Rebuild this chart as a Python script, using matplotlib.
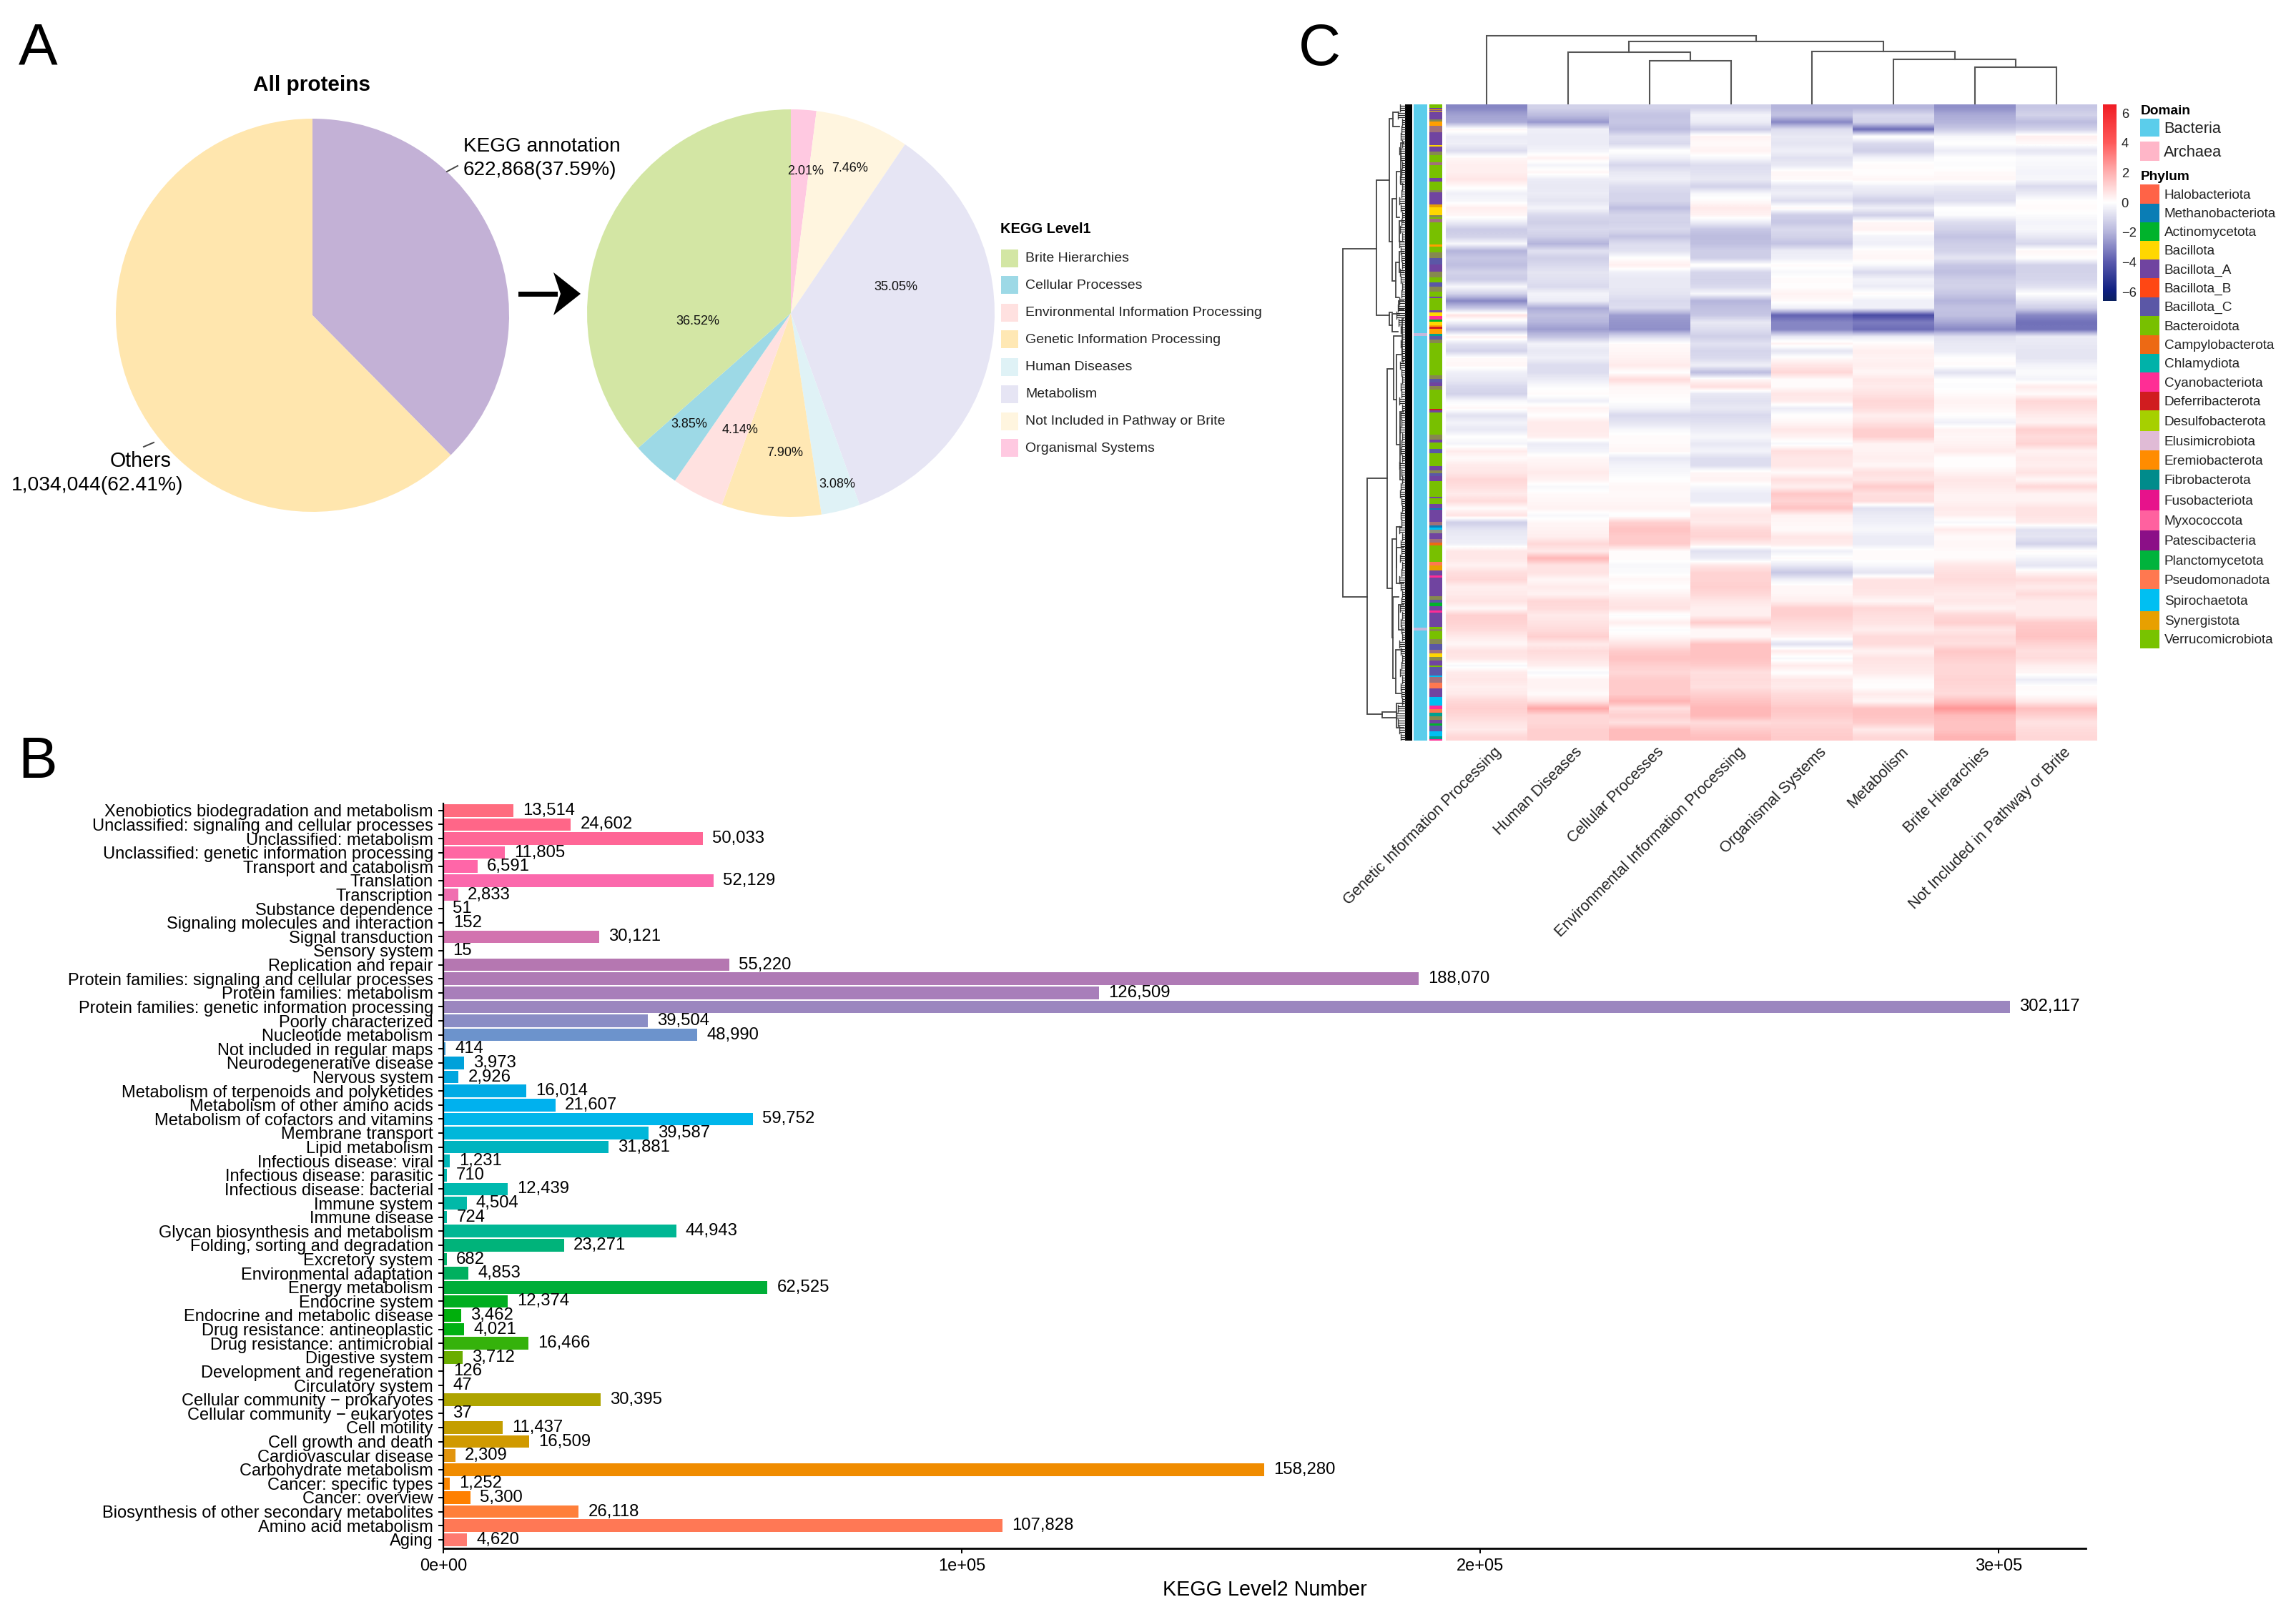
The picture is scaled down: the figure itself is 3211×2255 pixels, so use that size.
import numpy as np
import matplotlib
matplotlib.use('Agg')
import matplotlib.pyplot as plt
from matplotlib.colors import LinearSegmentedColormap, ListedColormap
from matplotlib.patches import Polygon, Rectangle

plt.rcParams['font.family'] = ['Liberation Sans', 'DejaVu Sans']

W, H = 3212, 2255

# panel A
overview_labels = ['KEGG annotation', 'Others']
overview_values = [622868, 1034044]
overview_colors = ['#C3B1D6', '#FFE6AE']

level1_names = ['Brite Hierarchies', 'Cellular Processes', 'Environmental Information Processing',
                'Genetic Information Processing', 'Human Diseases', 'Metabolism',
                'Not Included in Pathway or Brite', 'Organismal Systems']
level1_pct = [36.52, 3.85, 4.14, 7.90, 3.08, 35.05, 7.46, 2.01]
level1_colors = ['#D3E6A4', '#9DD9E6', '#FFE1E0', '#FFE8B4', '#DFF2F6', '#E6E5F4', '#FFF5DF', '#FFC9E1']

# panel B, bottom to top
level2_names = ['Aging', 'Amino acid metabolism', 'Biosynthesis of other secondary metabolites',
                'Cancer: overview', 'Cancer: specific types', 'Carbohydrate metabolism',
                'Cardiovascular disease', 'Cell growth and death', 'Cell motility',
                'Cellular community \u2212 eukaryotes', 'Cellular community \u2212 prokaryotes',
                'Circulatory system', 'Development and regeneration', 'Digestive system',
                'Drug resistance: antimicrobial', 'Drug resistance: antineoplastic',
                'Endocrine and metabolic disease', 'Endocrine system', 'Energy metabolism',
                'Environmental adaptation', 'Excretory system', 'Folding, sorting and degradation',
                'Glycan biosynthesis and metabolism', 'Immune disease', 'Immune system',
                'Infectious disease: bacterial', 'Infectious disease: parasitic',
                'Infectious disease: viral', 'Lipid metabolism', 'Membrane transport',
                'Metabolism of cofactors and vitamins', 'Metabolism of other amino acids',
                'Metabolism of terpenoids and polyketides', 'Nervous system',
                'Neurodegenerative disease', 'Not included in regular maps', 'Nucleotide metabolism',
                'Poorly characterized', 'Protein families: genetic information processing',
                'Protein families: metabolism', 'Protein families: signaling and cellular processes',
                'Replication and repair', 'Sensory system', 'Signal transduction',
                'Signaling molecules and interaction', 'Substance dependence', 'Transcription',
                'Translation', 'Transport and catabolism', 'Unclassified: genetic information processing',
                'Unclassified: metabolism', 'Unclassified: signaling and cellular processes',
                'Xenobiotics biodegradation and metabolism']
level2_values = [4620, 107828, 26118, 5300, 1252, 158280, 2309, 16509, 11437, 37, 30395, 47, 126,
                 3712, 16466, 4021, 3462, 12374, 62525, 4853, 682, 23271, 44943, 724, 4504, 12439,
                 710, 1231, 31881, 39587, 59752, 21607, 16014, 2926, 3973, 414, 48990, 39504,
                 302117, 126509, 188070, 55220, 15, 30121, 152, 51, 2833, 52129, 6591, 11805,
                 50033, 24602, 13514]
level2_colors = ['#FF7A70', '#FF7855', '#FF7F3A', '#FF8000', '#FA8500', '#F08C00', '#E2950E', '#D09A00',
                 '#C49E00', '#B8A000', '#AEA400', '#9AA800', '#86AB00', '#6AAD00', '#35B20B', '#00B112',
                 '#00AF0C', '#00AE20', '#00AE38', '#00B05F', '#00B36C', '#00B37A', '#00B794', '#00B8A0',
                 '#00B9A8', '#00B9AF', '#00B8B0', '#00B7B8', '#00B4C0', '#00B7DA', '#00B6EB', '#00B1EE',
                 '#00ABE5', '#00A6DF', '#00A1DA', '#3D9BD6', '#6C93CC', '#8A8DC5', '#9B86BF', '#A87EBA',
                 '#AF7AB5', '#B577B1', '#C075B0', '#D273AF', '#E070B0', '#E86FB0', '#F06EB0', '#FB69AC',
                 '#FF66A8', '#FF66A3', '#FF6696', '#FF6688', '#FF6C7F']

# panel C
heat_cols = ['Genetic Information Processing', 'Human Diseases', 'Cellular Processes',
             'Environmental Information Processing', 'Organismal Systems', 'Metabolism',
             'Brite Hierarchies', 'Not Included in Pathway or Brite']
heat_rows = [
    [-3.0, -1.2, -1.2, -1.2, -2.0, -2.0, -2.8, -1.5],
    [-2.4, -1.8, -1.6, -0.3, -1.6, -1.0, -2.2, -1.2],
    [-2.2, -2.6, -1.5, -0.5, -3.0, -1.2, -2.0, -1.8],
    [0.2, -0.4, -1.8, -1.4, -0.9, -3.6, -1.4, -1.2],
    [-0.5, -0.5, -0.8, 0.3, -0.6, 0.1, -0.2, 0.4],
    [-0.4, -0.5, -1.0, 0.1, -0.7, -1.0, 0.0, 0.1],
    [-0.9, -0.3, 0.0, 0.3, -0.4, -1.3, -0.5, -0.7],
    [0.2, 0.3, -0.4, -0.2, -0.8, -0.3, 0.0, -0.1],
    [0.4, -0.3, -1.1, -0.9, -0.6, 0.1, -0.1, -0.2],
    [0.4, 0.2, -0.6, -0.8, 0.2, 0.0, 0.1, -0.3],
    [0.6, -0.5, -0.4, -0.6, 0.1, 0.2, 0.2, -0.2],
    [0.1, -0.6, -0.9, -1.2, -0.7, -0.4, -0.5, -1.0],
    [-0.4, -0.5, -1.1, -0.2, -0.4, -0.7, -0.8, -0.5],
    [-0.2, -0.7, -1.1, 0.1, -0.9, -1.3, -0.9, 0.0],
    [0.4, -0.3, -1.7, 0.5, 0.2, -0.4, 0.0, 0.1],
    [0.2, -1.0, -1.1, 0.3, -1.3, -1.3, -0.1, -0.1],
    [-0.5, -1.3, -1.2, -0.5, -1.5, 0.2, -0.9, -0.3],
    [-1.4, -1.0, -1.0, -1.5, -1.0, 0.3, -1.2, -0.2],
    [-1.2, -1.3, -1.6, -1.8, -1.2, -0.3, -1.6, -0.6],
    [-0.2, -2.0, -0.9, -1.7, -1.6, -0.4, -1.3, -1.1],
    [-2.0, -0.8, -0.8, -1.3, -0.5, 0.1, -1.2, 0.2],
    [-1.5, -1.3, 0.0, -1.3, -0.4, 0.2, -0.7, 0.0],
    [-1.7, -1.0, 0.4, 0.1, 0.1, -0.2, -1.5, -1.2],
    [-1.2, -0.7, -0.4, -1.1, -0.2, -1.0, -1.7, -1.2],
    [-1.4, -0.8, -0.6, -1.2, 0.1, -0.3, -1.3, -1.1],
    [-0.2, -1.0, -0.6, -1.0, 0.0, -0.5, -1.2, -0.8],
    [-1.2, -0.3, -0.7, -0.2, 0.3, 0.1, -1.5, 0.0],
    [-3.0, -0.5, -1.0, -2.0, 0.1, -0.4, -2.0, -0.7],
    [-1.5, -2.2, -0.9, -1.7, -0.4, -0.4, -1.6, -1.3],
    [0.7, -1.7, -2.5, -1.5, -3.8, -4.4, -1.7, -3.0],
    [-0.4, -2.0, -2.7, -0.6, -3.0, -3.2, -2.3, -3.5],
    [-1.7, -2.5, -2.8, -0.9, -3.0, -3.6, -3.0, -3.4],
    [0.4, -1.6, -1.0, -1.3, -0.6, -0.5, -0.8, -0.5],
    [-0.7, -0.3, 0.1, -0.8, 0.3, 0.1, -0.6, -0.6],
    [-1.2, -0.6, 0.2, -1.1, -0.7, 0.4, -0.5, -0.7],
    [0.1, -0.4, 0.3, -1.0, 0.1, 0.3, 0.0, -0.7],
    [0.2, -0.9, 0.5, -0.4, 0.6, 0.4, 0.1, -0.3],
    [-0.4, -0.9, 0.0, -1.8, 1.0, 0.2, -0.8, -0.1],
    [-0.6, -0.5, 0.9, 0.2, 0.1, 0.6, 0.0, -0.3],
    [-1.0, -0.1, 0.2, 0.8, 0.1, 0.5, -0.1, 0.5],
    [-1.2, 0.1, 0.1, -0.6, 0.6, 0.7, 0.1, 0.1],
    [-0.2, -0.4, 0.0, -0.8, 0.5, 1.0, 0.3, 1.0],
    [0.2, 0.3, -0.3, -0.6, -0.5, 0.9, 0.2, 0.8],
    [-0.8, 0.0, -1.0, -1.0, 0.0, 0.4, 0.0, 0.5],
    [-0.3, 0.5, -0.7, -0.8, 0.2, 0.7, -0.4, 0.3],
    [-0.6, 0.5, -0.2, -0.5, 0.6, 1.2, 0.3, 1.2],
    [0.0, 0.4, 0.1, -0.2, 0.3, 1.2, 0.2, 0.9],
    [-0.3, -0.5, 0.1, -0.6, -0.2, 0.3, 0.3, 1.1],
    [0.5, -0.3, 0.2, -0.3, 0.8, 0.3, 0.5, 0.3],
    [0.1, 0.2, -0.6, -0.9, 0.6, 0.4, 0.0, 0.5],
    [0.5, 0.3, -0.3, -0.9, 0.6, 0.2, 0.0, 0.4],
    [0.6, 0.5, -0.2, 0.2, 0.1, 0.8, 0.3, 0.7],
    [1.0, 0.3, 0.0, 0.3, 0.8, 0.6, 0.6, 0.2],
    [0.8, -0.2, 0.2, -0.2, 0.4, 1.3, 0.5, 1.0],
    [0.5, 0.1, 0.1, -0.5, 1.4, 0.8, 0.3, 0.3],
    [0.9, 0.2, 0.2, -0.5, 1.1, 0.9, 0.3, 0.3],
    [0.1, 0.3, 0.3, 0.4, 1.5, -0.8, 0.5, 0.7],
    [0.7, -0.2, -0.1, 0.6, 0.3, -0.5, 0.4, 0.7],
    [-1.3, 0.2, 1.2, 0.5, 0.2, -0.4, -0.2, 0.5],
    [-0.7, 0.3, 1.5, 1.0, 0.1, -0.2, 0.5, -0.8],
    [-0.5, 0.4, 1.3, 1.1, 0.6, -0.5, 0.1, -0.7],
    [-0.4, 1.0, 1.3, 0.5, 0.5, -0.5, 0.2, -1.2],
    [0.6, 0.5, 0.1, -0.8, -0.4, 0.1, 0.1, 0.1],
    [0.6, 1.8, 0.1, -0.5, 0.1, 0.1, 0.1, -0.3],
    [0.3, 0.7, -0.2, 0.6, -0.6, -0.2, 0.6, -0.7],
    [0.8, 0.7, -0.1, 1.1, -1.5, -0.7, 0.8, 0.3],
    [1.0, 0.2, 0.2, 1.1, -0.4, 0.7, 0.9, 0.9],
    [0.4, 0.5, 0.0, 1.2, 0.2, 0.7, 0.7, 0.5],
    [0.5, 0.3, 0.3, 1.0, 0.2, 0.6, 0.5, 0.9],
    [0.7, 1.0, 0.6, 0.6, 0.4, 0.2, 0.6, 0.5],
    [0.2, 0.9, 0.7, 0.4, 1.2, 1.0, 0.3, 0.5],
    [1.2, 0.5, -0.1, 0.4, 1.2, 0.8, 1.0, 0.5],
    [1.1, 0.7, 0.4, 1.3, 0.9, 0.7, 1.2, 1.3],
    [0.9, 0.9, -0.1, 0.2, 0.7, 0.4, 0.6, 1.4],
    [0.5, 1.2, 0.2, 0.2, 0.3, 0.9, 0.9, 1.5],
    [0.2, 0.5, 0.7, 1.5, -0.8, 0.9, 0.8, 1.1],
    [0.7, 0.9, 1.3, 1.5, 0.5, 0.3, 1.4, 0.8],
    [0.6, 0.7, 1.5, 1.5, -0.2, 0.7, 1.2, 0.9],
    [-0.2, 0.4, 1.2, 1.3, 0.5, 0.6, 1.0, 0.4],
    [0.5, -0.2, 1.0, 0.8, 0.0, 0.5, 1.0, 0.2],
    [0.6, 0.3, 1.3, 0.9, 0.6, 0.1, 1.1, -0.5],
    [0.4, 0.3, 1.3, 0.8, 0.5, 0.0, 1.0, 0.1],
    [0.5, 0.1, 1.3, 1.2, 0.9, 0.5, 0.9, 0.0],
    [1.0, 0.7, 1.9, 1.5, 1.1, 0.2, 1.6, 0.5],
    [1.2, 2.2, 0.8, 1.8, 1.4, 1.5, 2.6, 1.6],
    [1.0, 1.0, 1.2, 1.8, 1.3, 1.5, 1.7, 1.2],
    [0.7, 1.0, 0.8, 0.9, 1.0, 1.3, 1.5, 0.7],
    [0.5, 1.2, 1.7, 1.3, 1.2, 0.5, 1.5, 0.9],
    [1.0, 1.2, 1.7, 1.6, 1.3, 1.0, 1.9, 1.0],
]

phylum_names = ['Halobacteriota', 'Methanobacteriota', 'Actinomycetota', 'Bacillota', 'Bacillota_A',
                'Bacillota_B', 'Bacillota_C', 'Bacteroidota', 'Campylobacterota', 'Chlamydiota',
                'Cyanobacteriota', 'Deferribacterota', 'Desulfobacterota', 'Elusimicrobiota',
                'Eremiobacterota', 'Fibrobacterota', 'Fusobacteriota', 'Myxococcota', 'Patescibacteria',
                'Planctomycetota', 'Pseudomonadota', 'Spirochaetota', 'Synergistota', 'Verrucomicrobiota']
phylum_colors = ['#FF6347', '#0A7DB5', '#00B32C', '#FFD700', '#7044A0', '#FF4714', '#5B57A6', '#78C000',
                 '#ED6914', '#00B2A9', '#FF2D95', '#D01C1F', '#A6D000', '#E0BBD6', '#FF8C00', '#008B8B',
                 '#E7128B', '#FF619F', '#8B0F87', '#00B33C', '#FF7850', '#00BFF2', '#E8A000', '#78C300']

# colours of the annotation strip; O and M are the blended olive and mauve bands
strip_colors = {'V': '#78C000', 'A': '#7044A0', 'Y': '#FFD700', 'S': '#E8A000', 'E': '#FF9F00',
                'C': '#5B57A6', 'O': '#86894F', 'M': '#A0707A', 'T': '#00BFF2', 'R': '#D01C1F',
                'P': '#FF2D95', 'G': '#00B32C', 'K': '#00A08F', 'H': '#FF7850', 'N': '#ED6914',
                'B': '#0A7DB5', 'W': '#8E8E80'}
phylum_runs = [('V', 5), ('A', 2), ('S', 1), ('A', 1), ('Y', 1), ('A', 11), ('O', 3), ('E', 6), ('M', 9),
               ('A', 18), ('Y', 2), ('A', 7), ('O', 5), ('V', 9), ('M', 4), ('V', 18), ('A', 5), ('V', 12),
               ('O', 3), ('A', 17), ('S', 4), ('Y', 11), ('O', 3), ('V', 2), ('M', 5), ('V', 31), ('E', 3),
               ('V', 8), ('O', 8), ('C', 8), ('A', 10), ('O', 8), ('V', 7), ('C', 6), ('O', 7), ('V', 7),
               ('A', 2), ('V', 17), ('A', 3), ('Y', 5), ('P', 5), ('G', 3), ('Y', 5), ('E', 2), ('R', 3),
               ('E', 7), ('K', 3), ('C', 5), ('O', 5), ('V', 44), ('O', 5), ('C', 5), ('A', 5), ('O', 5),
               ('V', 27), ('R', 2), ('A', 3), ('V', 31), ('O', 7), ('A', 4), ('V', 9), ('C', 6), ('V', 18),
               ('A', 6), ('O', 4), ('C', 3), ('A', 7), ('V', 22), ('A', 2), ('V', 8), ('A', 6), ('B', 2),
               ('A', 17), ('M', 5), ('B', 3), ('T', 3), ('W', 5), ('A', 8), ('M', 5), ('N', 4), ('V', 23),
               ('H', 5), ('S', 7), ('A', 7), ('P', 3), ('A', 25), ('O', 5), ('C', 4), ('G', 5), ('A', 6),
               ('P', 3), ('A', 20), ('V', 3), ('O', 3), ('V', 11), ('O', 7), ('C', 8), ('M', 5), ('Y', 5),
               ('O', 5), ('A', 7), ('V', 2), ('C', 12), ('T', 2), ('M', 8), ('H', 7), ('A', 12), ('T', 12),
               ('P', 5), ('H', 5), ('K', 5), ('O', 5), ('A', 5), ('G', 3), ('C', 8), ('T', 7), ('K', 4), ('P', 2)]
domain_runs = [('Bacteria', 320), ('Archaea', 4), ('Bacteria', 408), ('Archaea', 4), ('Bacteria', 154)]
domain_colors = {'Bacteria': '#5BCDEB', 'Archaea': '#C4B8DC'}

# column tree: left, right, height; ids above 7 are earlier merges
col_merges = [(6, 7, 52), (5, 8, 63), (4, 9, 74), (2, 3, 61), (1, 11, 73), (12, 10, 88), (0, 13, 96)]
# row tree brackets: height, row top, row bottom, child height top, child height bottom
row_brackets = [(96.7, 20.2, 68.9, 50, 62.7), (50, 10.6, 29.5, 31.7, 31.7), (31.7, 2.0, 19.2, 26.7, 28.3),
                (31.7, 29.1, 30.9, 27.7, 27.7), (27.7, 29.3, 31.8, 18, 20), (26.7, 1.1, 3.1, 19, 17.7),
                (28.3, 13.2, 24.7, 21.7, 23.3), (21.7, 9.4, 15.8, 15.7, 17.7), (15.7, 5.4, 11.2, 12, 12),
                (23.3, 22.1, 27.0, 17.7, 19), (17.7, 20.6, 23.5, 12, 12), (19, 27.5, 28.7, 12, 12),
                (17.7, 16.3, 19.2, 12, 12), (62.7, 52.3, 85.3, 35, 41.7), (35, 37.0, 67.7, 26, 28.3),
                (41.7, 85.0, 85.8, 21.7, 21.7), (21.7, 83.8, 87.2, 12, 12), (26, 32.4, 41.3, 14.3, 22.3),
                (22.3, 35.0, 47.6, 14.3, 16.7), (16.7, 43.0, 52.5, 12, 12), (14.3, 30.0, 36.0, 12, 12),
                (28.3, 60.8, 74.6, 22.3, 26.7), (22.3, 59.1, 64.8, 15, 21.7), (21.7, 62.0, 67.0, 12, 12),
                (26.7, 68.9, 80.3, 19, 23.3), (19, 70.0, 73.5, 12, 12), (23.3, 76.3, 82.4, 14, 16)]
leaf_depth = [17, 20, 14, 15, 16, 14, 18, 16, 14, 15, 17, 14, 15, 18, 16, 14, 15, 17, 14, 18, 16, 15, 14, 17,
              16, 14, 15, 18, 20, 22, 19, 16, 14, 16, 15, 14, 17, 15, 14, 16, 15, 18, 14, 16, 15, 17, 14, 15,
              16, 14, 18, 15, 14, 16, 17, 15, 14, 16, 15, 18, 14, 16, 15, 17, 14, 15, 18, 16, 14, 15, 17, 14,
              16, 15, 14, 18, 16, 14, 15, 17, 14, 16, 15, 14, 20, 22, 20, 18, 16]

label_dark = '#222222'


def axes_px(fig, x0, y0, x1, y1):
    # axes from pixel corners, y counted from the top of the figure
    return fig.add_axes([x0 / W, 1 - y1 / H, (x1 - x0) / W, (y1 - y0) / H])


fig = plt.figure(figsize=(W / 200, H / 200), dpi=200)

# Panel A: the two pies
ax_pie1 = axes_px(fig, 162, 166, 712, 716)
ax_pie1.pie(overview_values, colors=overview_colors, startangle=90, counterclock=False, radius=1)
ax_pie1.set_xlim(-1, 1)
ax_pie1.set_ylim(-1, 1)

ax_pie2 = axes_px(fig, 821, 153, 1391, 723)
ax_pie2.pie(level1_pct[::-1], colors=level1_colors[::-1], startangle=90, counterclock=False, radius=1)
ax_pie2.set_xlim(-1, 1)
ax_pie2.set_ylim(-1, 1)

# Panel B: horizontal bars
ax_bar = axes_px(fig, 620, 1124, 2917, 2166)
ypos = np.arange(len(level2_values))
ax_bar.barh(ypos, level2_values, height=0.9, color=level2_colors)
for y, v in zip(ypos, level2_values):
    ax_bar.annotate(f'{v:,}', (v, y), xytext=(4.7, 0), textcoords='offset points', va='center', ha='left',
                    fontsize=8.6, color='black')
ax_bar.set_yticks(ypos)
ax_bar.set_yticklabels(level2_names, fontsize=8.5, color='black')
ax_bar.set_ylim(-0.62, 52.5)
ax_bar.set_xlim(0, 316800)
ax_bar.set_xticks([0, 100000, 200000, 300000])
ax_bar.set_xticklabels(['0e+00', '1e+05', '2e+05', '3e+05'], fontsize=8.5, color='black')
ax_bar.set_xlabel('KEGG Level2 Number', fontsize=10.3, labelpad=3)
ax_bar.tick_params(axis='both', length=2.6, width=0.7, pad=2.5)
ax_bar.spines['top'].set_visible(False)
ax_bar.spines['right'].set_visible(False)
ax_bar.spines['left'].set_linewidth(0.8)
ax_bar.spines['bottom'].set_linewidth(1.0)

# Panel C: heatmap, one image per column so columns stay sharp and rows blend
hm_left, hm_top, hm_right, hm_bottom = 2022, 146, 2933, 1036
heat = np.array(heat_rows)
heat_cmap = LinearSegmentedColormap.from_list('heat', [
    (0.0, '#0A2060'), (0.05, '#0F1F80'), (0.197, '#5A5AAE'), (0.348, '#B5B5DC'), (0.5, '#FFFFFF'),
    (0.652, '#FFB0B0'), (0.803, '#FF5A5A'), (1.0, '#F01C24')])
ax_heat = axes_px(fig, hm_left, hm_top, hm_right, hm_bottom)
for c in range(heat.shape[1]):
    ax_heat.imshow(heat[:, [c]], aspect='auto', cmap=heat_cmap, vmin=-6.6, vmax=6.6, interpolation='bilinear',
                   extent=[c, c + 1, heat.shape[0], 0])
ax_heat.set_xlim(0, heat.shape[1])
ax_heat.set_ylim(heat.shape[0], 0)
ax_heat.set_yticks([])
ax_heat.set_xticks(np.arange(len(heat_cols)) + 0.585)
ax_heat.set_xticklabels(heat_cols, rotation=45, ha='right', va='top', rotation_mode='anchor', fontsize=7.85,
                        color=label_dark)
ax_heat.tick_params(axis='x', length=0, pad=2.0)
for s in ax_heat.spines.values():
    s.set_visible(False)

# annotation strips
ax_dom = axes_px(fig, 1977, hm_top, 1995.5, hm_bottom)
dom_codes = np.concatenate([np.full(n, i) for i, (_, n) in enumerate(domain_runs)])
ax_dom.imshow(dom_codes[:, None], aspect='auto', interpolation='nearest',
              cmap=ListedColormap([domain_colors[k] for k, _ in domain_runs]))
ax_dom.axis('off')

ax_phy = axes_px(fig, 1999, hm_top, 2017, hm_bottom)
keys = list(strip_colors)
phy_codes = np.concatenate([np.full(n, keys.index(k)) for k, n in phylum_runs])
ax_phy.imshow(phy_codes[:, None], aspect='auto', interpolation='nearest', vmin=0, vmax=len(keys) - 1,
              cmap=ListedColormap([strip_colors[k] for k in keys]))
ax_phy.axis('off')

# column dendrogram
tree_color = '#555555'
ax_ctree = axes_px(fig, hm_left, 46, hm_right, hm_top)
ax_ctree.set_xlim(0, 8)
ax_ctree.set_ylim(0, 100)
ax_ctree.axis('off')
nodes = {i: (i + 0.5, 0) for i in range(8)}
for n, (a, b, h) in enumerate(col_merges):
    xa, ha = nodes[a]
    xb, hb = nodes[b]
    ax_ctree.plot([xa, xa, xb, xb], [ha, h, h, hb], color=tree_color, lw=0.75, solid_joinstyle='miter')
    nodes[8 + n] = ((xa + xb) / 2, h)

# row dendrogram
ax_rtree = axes_px(fig, 1875, hm_top, 1975, hm_bottom)
ax_rtree.set_xlim(100, 0)
ax_rtree.set_ylim(89, 0)
ax_rtree.axis('off')
for h, r0, r1, h0, h1 in row_brackets:
    ax_rtree.plot([h0, h, h, h1], [r0, r0, r1, r1], color='#444444', lw=0.65, solid_joinstyle='miter')
for k, d in enumerate(leaf_depth):
    ax_rtree.plot([d, d], [k, k + 1], color='#444444', lw=0.5)
    ax_rtree.hlines([k + 0.17, k + 0.5, k + 0.83], 9, d, color='#222222', lw=0.45)
ax_rtree.axvspan(0, 9.5, color='black', lw=0)

# colour bar
ax_cbar = axes_px(fig, 2941, 145.5, 2960, 421)
cb_vals = np.linspace(6.6, -6.6, 256)[:, None]
ax_cbar.imshow(cb_vals, aspect='auto', cmap=heat_cmap, vmin=-6.6, vmax=6.6, extent=[0, 1, -6.6, 6.6])
ax_cbar.set_xticks([])
ax_cbar.yaxis.tick_right()
ax_cbar.set_yticks([6, 4, 2, 0, -2, -4, -6])
ax_cbar.set_yticklabels(['6', '4', '2', '0', '\u22122', '\u22124', '\u22126'], fontsize=6.6, color=label_dark)
ax_cbar.tick_params(axis='y', length=0, pad=2.4)
for s in ax_cbar.spines.values():
    s.set_visible(False)

# overlay in pixel coordinates for the free text and hand drawn legends
ov = fig.add_axes([0, 0, 1, 1], facecolor='none')
ov.set_xlim(0, W)
ov.set_ylim(H, 0)
ov.axis('off')

for letter, x, y in [('A', 53, 68), ('B', 53, 1067), ('C', 1845, 70)]:
    ov.text(x, y, letter, fontsize=29.5, ha='center', va='center', color='black')

ov.text(436, 119, 'All proteins', fontsize=10.7, fontweight='bold', ha='center', va='center')
ov.text(648, 205, overview_labels[0], fontsize=10.1, ha='left', va='center')
ov.text(648, 238, f'{overview_values[0]:,}(37.59%)', fontsize=10.1, ha='left', va='center')
ov.text(197, 645, overview_labels[1], fontsize=10.3, ha='center', va='center')
ov.text(136, 679, f'{overview_values[1]:,}(62.41%)', fontsize=10.2, ha='center', va='center')
ov.plot([625, 640], [240, 232], color='#444444', lw=0.7)
ov.plot([215, 201], [619, 625], color='#444444', lw=0.7)

# arrow between the pies
ov.add_patch(Rectangle((725, 407.5), 55, 7, color='black', lw=0))
ov.add_patch(Polygon([(774, 381), (812, 411), (774, 441), (784, 411)], closed=True, color='black', lw=0))

# labels on the second pie
pct_positions = [(976, 450), (964, 594), (1035, 602), (1098, 633), (1171, 677), (1253, 401), (1189, 235), (1127, 240)]
for p, (x, y) in zip(level1_pct, pct_positions):
    ov.text(x, y, f'{p:.2f}%', fontsize=6.5, ha='center', va='center', color='#111111')

ov.text(1399, 321, 'KEGG Level1', fontsize=7.2, fontweight='bold', ha='left', va='center')
for name, col, yc in zip(level1_names, level1_colors, [361, 398, 437, 474, 513, 551, 589, 626]):
    ov.add_patch(Rectangle((1400, yc - 12), 24.5, 24.5, color=col, lw=0))
    ov.text(1434.5, yc + 1, name, fontsize=7.03, ha='left', va='center', color=label_dark)

ov.text(2994, 156, 'Domain', fontsize=6.9, fontweight='bold', ha='left', va='center')
for name, y0, y1, col in [('Bacteria', 166, 191, '#5BCDEB'), ('Archaea', 197.5, 224.6, '#FFB6C8')]:
    ov.add_patch(Rectangle((2993, y0), 27, y1 - y0, color=col, lw=0))
    ov.text(3026, (y0 + y1) / 2 + 2, name, fontsize=7.9, ha='left', va='center', color=label_dark)

ov.text(2994, 247.5, 'Phylum', fontsize=6.9, fontweight='bold', ha='left', va='center')
swatch_edges = [258, 284.5, 310.5, 337, 363, 389, 415.5, 442, 468.5, 495, 521, 547.5, 574, 603, 630, 656.5,
                685, 714, 742, 770, 796.5, 824, 854.5, 881, 907]
for i, (name, col) in enumerate(zip(phylum_names, phylum_colors)):
    y0, y1 = swatch_edges[i], swatch_edges[i + 1]
    ov.add_patch(Rectangle((2993, y0), 27, y1 - y0, color=col, lw=0))
    ov.text(3027, (y0 + y1) / 2 + 2, name, fontsize=6.85, ha='left', va='center', color=label_dark)

fig.savefig('out.png', dpi=200)
